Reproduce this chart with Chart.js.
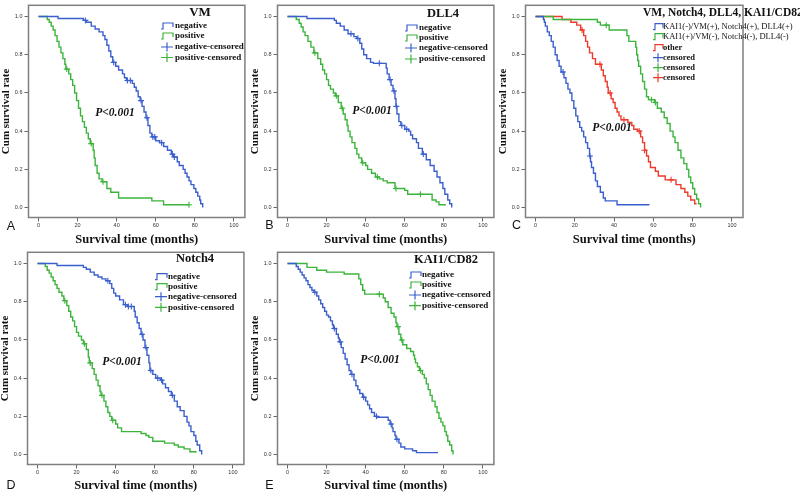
<!DOCTYPE html>
<html>
<head>
<meta charset="utf-8">
<script src="https://cdn.jsdelivr.net/npm/chart.js@4.4.1/dist/chart.umd.min.js"></script>
<style>
    body { margin: 0; background: #fff; width: 800px; height: 493px; position: relative; overflow: hidden; }
    canvas { position: absolute; }
    .tag { position: absolute; font: 12.5px "Liberation Sans", Arial, sans-serif; color: #111; transform: translate(-50%, -50%); }
</style>
</head>
<body>
<canvas id="panelA" width="249" height="247" style="left:0;top:0"></canvas>
<canvas id="panelB" width="249" height="247" style="left:249px;top:0"></canvas>
<canvas id="panelC" width="303" height="247" style="left:497px;top:0"></canvas>
<canvas id="panelD" width="249" height="246" style="left:-1px;top:247px"></canvas>
<canvas id="panelE" width="249" height="246" style="left:249px;top:247px"></canvas>
<div class="tag" style="left:11px;top:226px">A</div>
<div class="tag" style="left:269.5px;top:225px">B</div>
<div class="tag" style="left:516.5px;top:225px">C</div>
<div class="tag" style="left:11px;top:484.5px">D</div>
<div class="tag" style="left:269.5px;top:484.5px">E</div>
<script>
const timeTicks = [0, 20, 40, 60, 80, 100];
const survTicks = [0, 0.2, 0.4, 0.6, 0.8, 1.0];
const twoGroupLabels = ['negative', 'positive', 'negative-censored', 'positive-censored'];
const comboLabels = ['KAI1(-)/VM(+), Notch4(+), DLL4(+)', 'KAI1(+)/VM(-), Notch4(-), DLL4(-)', 'other', 'censored', 'censored', 'censored'];

// A: VM  [months, cum survival]
const vmNeg = [[0,1],[10,0.99],[23,0.98],[24.5,0.97],[27,0.95],[29,0.935],[31,0.92],[33,0.9],[34,0.88],[35,0.85],[36,0.82],[37,0.79],[38,0.76],[39.5,0.74],[41,0.72],[43,0.7],[44,0.68],[45,0.665],[48,0.65],[49,0.63],[50,0.61],[51,0.58],[52,0.56],[53,0.53],[54,0.5],[55,0.47],[56,0.43],[57,0.39],[58,0.37],[60,0.35],[62,0.34],[64,0.32],[66,0.3],[68,0.28],[69,0.265],[71,0.24],[72,0.22],[74,0.2],[75,0.18],[76,0.16],[77,0.14],[78,0.12],[79.5,0.1],[80.5,0.08],[81.5,0.06],[82.5,0.04],[83,0.02],[84,0]];
const vmNegCens = [[24,0.98],[38.5,0.76],[45.5,0.665],[47,0.665],[52.5,0.56],[55.5,0.47],[58.5,0.37],[59.5,0.37],[63,0.34],[68.5,0.28],[69.5,0.265]];
const vmPos = [[0,1],[4.5,0.985],[5.5,0.97],[6.5,0.95],[7.5,0.93],[8.5,0.9],[9.5,0.87],[10.5,0.84],[11.5,0.81],[12.5,0.78],[13.5,0.75],[14,0.725],[15.5,0.7],[16.5,0.67],[17.5,0.64],[18.5,0.6],[19.5,0.56],[20.5,0.52],[21.5,0.48],[22.5,0.45],[23.5,0.42],[24.5,0.39],[25.5,0.36],[26.5,0.335],[28,0.3],[28.5,0.26],[29,0.22],[30,0.18],[31,0.15],[32.5,0.135],[35,0.1],[37,0.08],[41,0.05],[58,0.035],[64,0.015],[77,0.015]];
const vmPosCens = [[14.5,0.725],[27,0.335],[33,0.135],[77,0.015]];

// B: DLL4
const dllNeg = [[0,1],[10,0.99],[24,0.98],[25,0.965],[27,0.95],[29,0.93],[31,0.91],[34,0.895],[35.5,0.885],[37,0.86],[38,0.83],[39,0.8],[40.5,0.78],[42.5,0.76],[44,0.755],[50.5,0.73],[51,0.7],[52,0.67],[53,0.64],[54,0.61],[55,0.57],[55.5,0.53],[56,0.49],[57,0.45],[58,0.43],[60,0.41],[62,0.4],[63,0.38],[64,0.36],[66,0.34],[67,0.31],[69,0.28],[71,0.25],[73,0.22],[75,0.19],[76.5,0.16],[78,0.13],[79.5,0.1],[80.5,0.07],[82,0.04],[83,0.02],[84,0]];
const dllNegCens = [[32.5,0.91],[36,0.885],[47,0.755],[52.5,0.67],[54.5,0.61],[55.7,0.53],[58.5,0.43],[61,0.41],[69.5,0.28]];
const dllPos = [[0,1],[4.5,0.985],[6,0.965],[7,0.945],[8,0.92],[9,0.9],[10.5,0.87],[12,0.84],[13.5,0.81],[15.5,0.78],[17,0.75],[18,0.72],[19,0.7],[20,0.67],[21,0.64],[22,0.62],[23.5,0.6],[24.5,0.585],[26,0.55],[27.5,0.52],[28.5,0.49],[29.5,0.46],[30.5,0.43],[31,0.4],[32,0.37],[33,0.34],[34.5,0.31],[35.5,0.28],[36.5,0.26],[38,0.235],[40,0.22],[41,0.2],[43,0.18],[45,0.16],[47,0.15],[49,0.14],[51,0.13],[55,0.1],[60,0.09],[61.5,0.07],[74,0.04],[76,0.03],[77.5,0.015],[81,0.015]];
const dllPosCens = [[14,0.81],[25,0.585],[28,0.52],[38.5,0.235],[46,0.16],[55.5,0.1],[68,0.07]];

// C: VM, Notch4, DLL4, KAI1/CD82
const comboBlue = [[0,1],[4,0.985],[4.5,0.97],[5,0.95],[6,0.92],[7,0.9],[8,0.87],[9,0.84],[10,0.8],[11,0.77],[12,0.74],[13,0.71],[14.5,0.68],[15.5,0.65],[16.5,0.62],[17.5,0.6],[18.5,0.56],[19.5,0.52],[20.5,0.48],[21.5,0.45],[22.5,0.42],[23.5,0.4],[24.5,0.37],[25.5,0.34],[26.5,0.31],[27.5,0.27],[28,0.24],[28.5,0.21],[29.5,0.18],[30.5,0.14],[31.5,0.11],[33,0.08],[34.5,0.05],[35.5,0.035],[41.5,0.015],[58,0.015]];
const comboBlueCens = [[14,0.71],[27.7,0.27]];
const comboGreen = [[0,1],[9,0.985],[31.5,0.97],[33,0.955],[37.5,0.93],[46.5,0.9],[47.5,0.87],[51,0.84],[51.5,0.8],[52,0.77],[52.5,0.74],[53.5,0.7],[54.5,0.66],[55.5,0.62],[56.5,0.58],[57.5,0.565],[60.5,0.55],[62,0.52],[64,0.5],[65.5,0.47],[67,0.44],[68.5,0.4],[70,0.37],[71,0.34],[72.5,0.3],[74,0.26],[75.5,0.23],[77,0.2],[78,0.16],[79,0.13],[80,0.1],[81,0.07],[82,0.045],[83,0.02],[84,0]];
const comboGreenCens = [[36,0.955],[59,0.565],[61,0.55]];
const comboRed = [[0,1],[13.5,0.985],[18,0.97],[21,0.955],[23,0.93],[24.5,0.9],[25.5,0.87],[26.5,0.84],[27.5,0.81],[29,0.78],[30.5,0.75],[33.5,0.72],[34.5,0.69],[35.5,0.66],[36.5,0.63],[37,0.6],[38.5,0.57],[39.5,0.55],[40.5,0.52],[41.5,0.5],[42.5,0.48],[43.5,0.46],[47,0.445],[49,0.43],[50,0.41],[52,0.4],[53.5,0.37],[54.5,0.34],[55.5,0.3],[56.5,0.27],[57.5,0.24],[58.5,0.21],[61,0.19],[62.5,0.165],[66,0.145],[71.5,0.12],[74,0.1],[76,0.08],[77.5,0.06],[79,0.04],[81,0.02],[82,0.02]];
const comboRedCens = [[23.7,0.93],[32.8,0.75],[38,0.6],[45,0.46],[52.8,0.4],[55.5,0.3],[69,0.145]];

// D: Notch4
const notchNeg = [[0,1],[10,0.99],[23.5,0.98],[25,0.97],[27,0.955],[29,0.94],[31,0.93],[33,0.92],[35,0.91],[37,0.895],[38,0.87],[39,0.845],[40,0.83],[42,0.81],[44,0.785],[46,0.775],[49.5,0.75],[50,0.72],[51,0.69],[52,0.66],[53,0.63],[54,0.6],[55,0.56],[56,0.52],[57,0.48],[57.5,0.44],[59,0.42],[60.5,0.4],[63,0.39],[64,0.37],[65.5,0.35],[67,0.33],[68.5,0.31],[70,0.28],[71.5,0.25],[73,0.23],[75,0.2],[76.5,0.17],[77.5,0.15],[78.5,0.12],[80,0.1],[81,0.07],[81.7,0.05],[83,0.02],[84,0]];
const notchNegCens = [[36,0.91],[45,0.785],[46.5,0.775],[48,0.775],[53.5,0.63],[55.5,0.56],[58,0.44],[61.5,0.4],[63.5,0.39],[69,0.31]];
const notchPos = [[0,1],[4,0.985],[5,0.965],[6,0.95],[7,0.93],[8,0.91],[9,0.89],[10,0.87],[11,0.85],[12.5,0.83],[13.5,0.805],[15,0.78],[16,0.75],[17,0.72],[18,0.7],[19,0.67],[20,0.64],[21,0.62],[22.5,0.6],[23.5,0.58],[25,0.55],[26,0.51],[26.5,0.48],[28,0.45],[29,0.42],[30,0.39],[31,0.36],[32,0.33],[32.5,0.31],[34,0.28],[35,0.25],[36,0.22],[37,0.2],[38,0.18],[40,0.16],[41,0.14],[43,0.12],[53,0.11],[55.5,0.1],[57,0.09],[59,0.07],[65,0.06],[70,0.05],[72,0.04],[75,0.03],[78,0.015],[81,0.01]];
const notchPosCens = [[14,0.805],[24,0.58],[27,0.48],[33,0.31],[38.5,0.18]];

// E: KAI1/CD82
const kaiNeg = [[0,1],[4.5,0.985],[5.5,0.97],[6.5,0.955],[7.5,0.94],[8.5,0.925],[9.5,0.91],[10.5,0.89],[11.5,0.875],[12.5,0.86],[13.5,0.85],[15,0.83],[16,0.81],[17,0.79],[18,0.77],[19,0.75],[20,0.73],[21,0.72],[22,0.7],[23,0.68],[23.5,0.66],[25,0.63],[26,0.61],[26.5,0.59],[27.5,0.56],[28.5,0.53],[29.5,0.5],[30.5,0.47],[31.5,0.44],[32.5,0.42],[34,0.39],[35,0.36],[36,0.34],[37,0.32],[38.5,0.3],[40,0.28],[41,0.26],[42,0.24],[43,0.22],[44.5,0.2],[46,0.195],[51.5,0.18],[52.5,0.16],[53.5,0.14],[54,0.12],[55,0.1],[55.5,0.08],[57,0.06],[58,0.04],[60,0.03],[64,0.02],[66,0.01],[77,0.01]];
const kaiNegCens = [[14,0.85],[24,0.66],[27,0.59],[33,0.42],[39,0.3],[45.5,0.2],[53,0.16],[56,0.08]];
const kaiPos = [[0,1],[10,0.98],[15,0.965],[20,0.955],[29,0.945],[36.5,0.92],[37.5,0.89],[38.5,0.86],[39.5,0.84],[49,0.82],[50,0.8],[51.5,0.77],[53,0.74],[54.5,0.72],[55.5,0.69],[56,0.67],[57,0.63],[58,0.6],[59,0.575],[61,0.555],[63,0.54],[64.5,0.52],[65,0.5],[65.5,0.48],[66.5,0.46],[67.5,0.44],[69,0.42],[70,0.4],[71,0.37],[72,0.34],[73,0.31],[74,0.28],[75.5,0.25],[76.5,0.22],[77.5,0.19],[78.5,0.17],[79.5,0.15],[80.5,0.12],[81.3,0.1],[82,0.07],[83,0.05],[84,0.02],[84.7,0]];
const kaiPosCens = [[47,0.84],[56.5,0.67],[58.5,0.6],[68,0.44]];

const BLUE = '#3a5fcd', GREEN = '#3cb43c', RED = '#ee3a2c';
const serif = '"Liberation Serif", "Times New Roman", serif';
const sans = '"Liberation Sans", Arial, sans-serif';

const toXY = arr => arr.map(p => ({x: p[0], y: p[1]}));

function curve(label, color, pts) {
    return { label: label, data: toXY(pts), borderColor: color, borderWidth: 1.4,
             stepped: 'before', pointRadius: 0, fill: false, tension: 0 };
}
function cens(label, color, pts) {
    return { label: label, data: toXY(pts), borderColor: color, backgroundColor: color,
             showLine: false, pointStyle: 'cross', pointRadius: 3, borderWidth: 1.1, pointHoverRadius: 3 };
}

const framePlugin = {
    id: 'frame',
    afterDatasetsDraw(chart) {
        const a = chart.chartArea, ctx = chart.ctx;
        ctx.save();
        ctx.strokeStyle = '#7f7f7f';
        ctx.lineWidth = 1.5;
        ctx.strokeRect(a.left, a.top, a.right - a.left, a.bottom - a.top);
        ctx.restore();
    }
};

const kmLegend = {
    id: 'kmLegend',
    afterDraw(chart, args, o) {
        const ctx = chart.ctx;
        ctx.save();
        ctx.fillStyle = '#111';
        ctx.font = 'bold ' + o.titleSize + 'px ' + serif;
        ctx.textAlign = o.titleAlign;
        ctx.textBaseline = 'middle';
        ctx.fillText(o.title, o.titleX, o.titleY);
        const sets = chart.data.datasets;
        o.rows.forEach((y, i) => {
            const ds = sets[i];
            const x = o.glyphX, w = o.glyphW;
            ctx.strokeStyle = ds.borderColor;
            ctx.lineWidth = 1.2;
            ctx.beginPath();
            if (ds.showLine === false) {
                ctx.moveTo(x, y); ctx.lineTo(x + w, y);
                ctx.moveTo(x + w / 2, y - 4.5); ctx.lineTo(x + w / 2, y + 4.5);
            } else {
                ctx.moveTo(x, y + 3); ctx.lineTo(x + 2, y + 3); ctx.lineTo(x + 2, y - 3);
                ctx.lineTo(x + w, y - 3); ctx.lineTo(x + w, y + 1);
            }
            ctx.stroke();
            ctx.fillStyle = '#111';
            ctx.textAlign = 'left';
            ctx.font = (o.labelWeight && o.labelWeight[i] ? o.labelWeight[i] : 'bold') + ' ' + o.labelSize + 'px ' + serif;
            ctx.fillText(ds.label, o.textX, y);
        });
        ctx.font = 'italic bold 11.5px ' + serif;
        ctx.textAlign = 'center';
        ctx.fillText('P<0.001', o.pX, o.pY);
        ctx.restore();
    }
};

function makeChart(id, datasets, legend) {
    const canvas = document.getElementById(id);
    const W = canvas.width, H = canvas.height;
    return new Chart(canvas, {
        type: 'line',
        data: { datasets: datasets },
        plugins: [framePlugin, kmLegend],
        options: {
            responsive: false,
            animation: false,
            layout: { padding: { left: 0, right: W - 246, top: 0.5, bottom: 0 } },
            scales: {
                x: {
                    type: 'linear', min: -5.1, max: 105.6,
                    afterBuildTicks: s => { s.ticks = timeTicks.map(v => ({value: v})); },
                    afterFit: s => { s.height = H - 217.5; },
                    ticks: { font: {family: sans, size: 5.5}, color: '#333', padding: 1, maxRotation: 0, autoSkip: false },
                    grid: { drawOnChartArea: false, tickLength: 4, color: '#666' },
                    border: { display: false },
                    title: { display: true, text: 'Survival time (months)', color: '#111', padding: 0,
                             font: {family: serif, weight: 'bold', size: 12.5} }
                },
                y: {
                    type: 'linear', min: -0.052, max: 1.059,
                    afterBuildTicks: s => { s.ticks = survTicks.map(v => ({value: v})); },
                    afterFit: s => { s.width = 28.5; },
                    ticks: { font: {family: sans, size: 5.5}, color: '#333', padding: 2, callback: v => v.toFixed(1) },
                    grid: { drawOnChartArea: false, tickLength: 4, color: '#666' },
                    border: { display: false },
                    title: { display: true, text: 'Cum survival rate', color: '#111', padding: 0,
                             font: {family: serif, weight: 'bold', size: 11} }
                }
            },
            plugins: {
                legend: { display: false },
                tooltip: { enabled: false },
                kmLegend: legend
            }
        }
    });
}

makeChart('panelA', [
    curve(twoGroupLabels[0], BLUE, vmNeg), curve(twoGroupLabels[1], GREEN, vmPos),
    cens(twoGroupLabels[2], BLUE, vmNegCens), cens(twoGroupLabels[3], GREEN, vmPosCens)
], { title: 'VM', titleSize: 13, titleAlign: 'center', titleX: 200, titleY: 13,
     glyphX: 161, glyphW: 12, textX: 175, labelSize: 9, rows: [26, 36, 47, 57.5], pX: 115, pY: 113 });

makeChart('panelB', [
    curve(twoGroupLabels[0], BLUE, dllNeg), curve(twoGroupLabels[1], GREEN, dllPos),
    cens(twoGroupLabels[2], BLUE, dllNegCens), cens(twoGroupLabels[3], GREEN, dllPosCens)
], { title: 'DLL4', titleSize: 12.5, titleAlign: 'center', titleX: 194, titleY: 14,
     glyphX: 156, glyphW: 12, textX: 170, labelSize: 9, rows: [28, 38, 48, 59], pX: 123, pY: 111 });

makeChart('panelC', [
    curve(comboLabels[0], BLUE, comboBlue), curve(comboLabels[1], GREEN, comboGreen), curve(comboLabels[2], RED, comboRed),
    cens(comboLabels[3], BLUE, comboBlueCens), cens(comboLabels[4], GREEN, comboGreenCens), cens(comboLabels[5], RED, comboRedCens)
], { title: 'VM, Notch4, DLL4, KAI1/CD82', titleSize: 11.5, titleAlign: 'left', titleX: 146, titleY: 13,
     glyphX: 156, glyphW: 10, textX: 166, labelSize: 8.5, labelWeight: ['normal', 'normal'],
     rows: [26.7, 36.7, 47.7, 57.7, 67.7, 77.7], pX: 115, pY: 128 });

makeChart('panelD', [
    curve(twoGroupLabels[0], BLUE, notchNeg), curve(twoGroupLabels[1], GREEN, notchPos),
    cens(twoGroupLabels[2], BLUE, notchNegCens), cens(twoGroupLabels[3], GREEN, notchPosCens)
], { title: 'Notch4', titleSize: 12.5, titleAlign: 'center', titleX: 196, titleY: 12,
     glyphX: 156, glyphW: 12, textX: 169, labelSize: 9, rows: [29.7, 39.7, 49.7, 60.3], pX: 123, pY: 115 });

makeChart('panelE', [
    curve(twoGroupLabels[0], BLUE, kaiNeg), curve(twoGroupLabels[1], GREEN, kaiPos),
    cens(twoGroupLabels[2], BLUE, kaiNegCens), cens(twoGroupLabels[3], GREEN, kaiPosCens)
], { title: 'KAI1/CD82', titleSize: 12.5, titleAlign: 'center', titleX: 197, titleY: 13,
     glyphX: 160, glyphW: 12, textX: 173, labelSize: 9, rows: [28, 38, 48, 58.7], pX: 131, pY: 113 });
</script>
</body>
</html>
